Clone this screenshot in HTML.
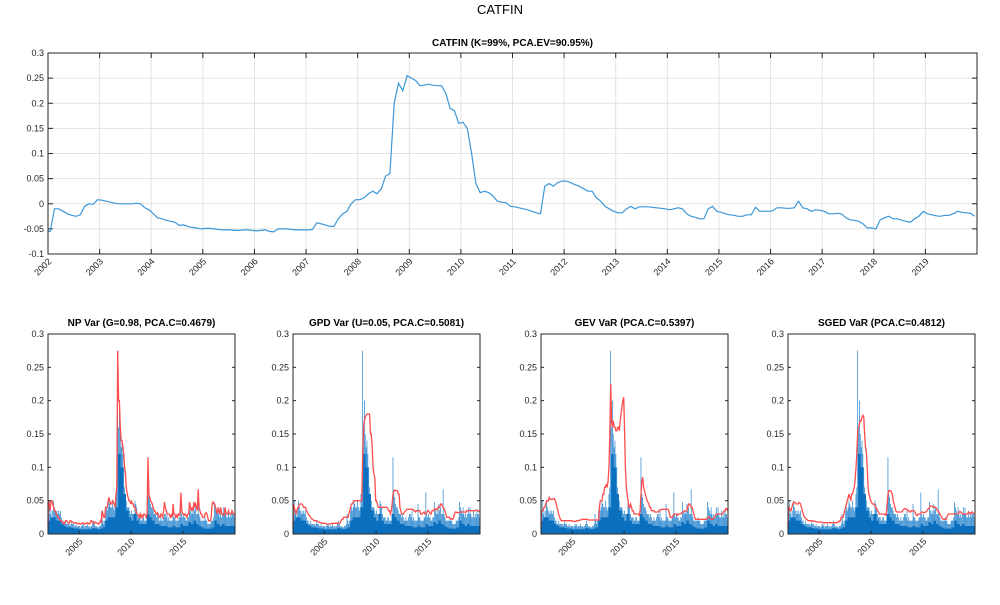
<!DOCTYPE html>
<html><head><meta charset="utf-8"><style>
body{margin:0;background:#fff;width:1000px;height:600px;overflow:hidden}
svg text{font-family:"Liberation Sans",sans-serif;fill:#262626}
</style></head><body>
<svg id="c" width="1000" height="600">
<text x="500" y="14" text-anchor="middle" font-size="13" style="fill:#000">CATFIN</text>
</svg>
<script>
const catfin=[-0.055,-0.01,-0.01,-0.015,-0.02,-0.023,-0.025,-0.022,-0.005,0,-0.001,0.008,
0.007,0.005,0.003,0.001,0,0,0,0,0.001,0,-0.008,-0.012,
-0.02,-0.028,-0.03,-0.033,-0.035,-0.037,-0.043,-0.042,-0.045,-0.047,-0.048,-0.05,
-0.049,-0.049,-0.05,-0.051,-0.052,-0.052,-0.052,-0.053,-0.053,-0.052,-0.052,-0.053,
-0.054,-0.053,-0.052,-0.055,-0.056,-0.05,-0.05,-0.05,-0.051,-0.052,-0.052,-0.052,
-0.052,-0.051,-0.038,-0.04,-0.042,-0.045,-0.045,-0.03,-0.02,-0.015,0,0.008,
0.008,0.012,0.02,0.025,0.02,0.03,0.055,0.06,0.2,0.24,0.225,0.255,
0.25,0.245,0.235,0.236,0.238,0.236,0.235,0.235,0.22,0.19,0.185,0.16,
0.162,0.15,0.1,0.04,0.022,0.025,0.022,0.015,0.005,0.003,0.002,-0.005,
-0.006,-0.008,-0.01,-0.012,-0.015,-0.018,-0.02,0.035,0.04,0.035,0.042,0.045,
0.045,0.042,0.038,0.035,0.03,0.025,0.025,0.012,0.005,-0.005,-0.01,-0.015,
-0.018,-0.018,-0.01,-0.005,-0.01,-0.006,-0.006,-0.006,-0.007,-0.008,-0.009,-0.01,
-0.012,-0.01,-0.008,-0.01,-0.02,-0.025,-0.027,-0.03,-0.03,-0.01,-0.005,-0.015,
-0.017,-0.02,-0.022,-0.023,-0.025,-0.025,-0.022,-0.022,-0.007,-0.015,-0.015,-0.015,
-0.014,-0.008,-0.008,-0.009,-0.009,-0.008,0.005,-0.008,-0.01,-0.015,-0.012,-0.013,
-0.015,-0.02,-0.02,-0.019,-0.02,-0.028,-0.032,-0.033,-0.035,-0.04,-0.048,-0.048,
-0.05,-0.032,-0.028,-0.025,-0.03,-0.03,-0.033,-0.035,-0.037,-0.03,-0.025,-0.015,
-0.02,-0.022,-0.024,-0.025,-0.023,-0.023,-0.02,-0.015,-0.017,-0.018,-0.019,-0.025];
const mainYTicks=[-0.1,-0.05,0,0.05,0.1,0.15,0.2,0.25,0.3];
const mainYLabels=["-0.1","-0.05","0","0.05","0.1","0.15","0.2","0.25","0.3"];
const mainXTicks=[2002,2003,2004,2005,2006,2007,2008,2009,2010,2011,2012,2013,2014,2015,2016,2017,2018,2019];
const smallYTicks=[0,0.05,0.1,0.15,0.2,0.25,0.3];
const smallYLabels=["0","0.05","0.1","0.15","0.2","0.25","0.3"];
const smallXTicks=[2005,2010,2015];
const returnsPeak=[.03,.05,.03,.035,.025,.035,.05,.04,.035,.03,.035,.03,
.035,.03,.035,.025,.02,.02,.015,.015,.02,.015,.015,.015,
.015,.012,.015,.02,.015,.015,.012,.012,.015,.01,.012,.012,
.012,.01,.012,.015,.012,.015,.01,.012,.012,.015,.012,.01,
.012,.01,.012,.015,.02,.015,.012,.01,.012,.01,.01,.012,
.012,.015,.03,.02,.015,.02,.035,.04,.035,.04,.05,.045,
.04,.04,.05,.04,.035,.04,.06,.07,.275,.16,.2,.15,
.13,.14,.12,.1,.07,.06,.05,.04,.04,.04,.035,.03,
.035,.03,.03,.03,.05,.045,.04,.03,.025,.025,.025,.02,
.02,.025,.025,.02,.02,.02,.03,.115,.06,.055,.045,.04,
.04,.035,.03,.03,.03,.025,.03,.025,.02,.02,.025,.02,
.02,.025,.03,.03,.025,.035,.02,.025,.02,.02,.02,.02,
.045,.025,.025,.02,.02,.02,.02,.025,.025,.062,.03,.025,
.03,.025,.025,.02,.02,.025,.025,.048,.035,.03,.035,.03,
.045,.035,.04,.03,.03,.067,.03,.025,.02,.02,.02,.02,
.02,.025,.02,.02,.015,.015,.015,.015,.02,.02,.02,.025,
.048,.04,.035,.03,.04,.03,.025,.03,.025,.03,.04,.03,
.04,.03,.025,.025,.035,.025,.03,.025,.035,.03,.03,.025];
const returnsTypical=[.02,.025,.025,.02,.02,.015,.012,.01,.01,.009,.008,.008,.007,.007,.007,.007,.007,.009,.008,.007,.008,.01,.02,.025,.025,.025,.04,.12,.1,.06,.035,.025,.02,.03,.02,.015,.015,.015,.03,.025,.02,.015,.015,.012,.012,.012,.01,.01,.012,.01,.01,.015,.012,.012,.018,.015,.02,.015,.012,.01,.008,.008,.008,.01,.02,.015,.012,.015,.012,.012,.012,.012];
const varNP=[.05,.045,.035,.05,.05,.045,.04,.035,.035,.03,.028,.025,
.025,.022,.02,.02,.018,.017,.015,.018,.02,.02,.018,.017,
.016,.02,.02,.018,.018,.017,.016,.017,.017,.016,.016,.015,
.016,.015,.015,.016,.017,.016,.015,.016,.016,.017,.016,.015,
.016,.02,.02,.017,.016,.016,.018,.017,.016,.016,.015,.016,
.02,.018,.035,.03,.025,.025,.04,.04,.04,.05,.055,.048,
.045,.045,.05,.048,.045,.04,.06,.07,.275,.2,.2,.16,
.14,.14,.13,.12,.1,.09,.07,.06,.055,.05,.05,.045,
.05,.045,.045,.04,.04,.035,.03,.03,.028,.025,.03,.025,
.028,.025,.03,.03,.028,.025,.03,.115,.06,.055,.05,.048,
.045,.04,.035,.035,.03,.03,.032,.03,.025,.025,.03,.028,
.025,.035,.048,.04,.035,.03,.03,.03,.028,.025,.03,.025,
.045,.03,.03,.025,.028,.025,.03,.028,.03,.062,.035,.03,
.03,.028,.03,.028,.025,.03,.03,.048,.04,.035,.04,.035,
.048,.04,.045,.04,.035,.067,.04,.035,.03,.03,.025,.025,
.025,.03,.032,.03,.025,.02,.02,.02,.025,.045,.048,.045,
.045,.04,.035,.03,.04,.035,.03,.04,.03,.03,.03,.028,
.04,.032,.03,.03,.035,.03,.03,.03,.035,.032,.03,.028];
const varGPD=[.045,.04,.035,.03,.035,.04,.04,.045,.045,.045,.045,.042,
.04,.04,.04,.035,.033,.03,.028,.027,.025,.023,.022,.021,
.02,.02,.02,.02,.019,.018,.018,.017,.017,.016,.016,.016,
.016,.016,.015,.015,.015,.015,.015,.015,.016,.016,.016,.016,
.016,.016,.016,.016,.016,.016,.017,.02,.022,.022,.025,.025,
.025,.025,.025,.025,.03,.035,.04,.045,.045,.048,.05,.05,
.05,.05,.05,.05,.05,.05,.05,.05,.12,.16,.17,.175,
.178,.18,.18,.18,.18,.15,.15,.13,.1,.09,.085,.05,
.05,.045,.04,.04,.04,.04,.04,.04,.04,.04,.04,.04,
.04,.038,.035,.035,.03,.035,.045,.06,.065,.066,.065,.065,
.065,.06,.06,.04,.035,.03,.03,.03,.032,.034,.035,.037,
.037,.037,.037,.037,.037,.037,.037,.035,.035,.033,.035,.035,
.035,.035,.035,.03,.03,.03,.032,.033,.03,.03,.032,.035,
.035,.033,.03,.03,.035,.035,.035,.038,.038,.036,.036,.04,
.04,.04,.045,.045,.042,.04,.038,.035,.03,.025,.025,.025,
.025,.023,.023,.022,.022,.025,.03,.033,.033,.032,.032,.032,
.033,.033,.033,.033,.033,.033,.033,.032,.035,.035,.035,.035,
.035,.035,.035,.035,.035,.035,.035,.036,.036,.035,.034,.033];
const varGEV=[.035,.035,.035,.04,.04,.045,.05,.05,.05,.055,.052,.052,
.052,.052,.053,.053,.05,.045,.04,.035,.03,.025,.022,.02,
.02,.02,.02,.02,.02,.02,.02,.02,.02,.02,.02,.02,
.019,.019,.019,.019,.019,.02,.02,.02,.021,.021,.021,.022,
.022,.022,.022,.022,.022,.022,.021,.021,.021,.021,.021,.021,
.021,.021,.021,.021,.021,.021,.021,.04,.05,.05,.05,.06,
.06,.07,.07,.075,.07,.08,.1,.15,.225,.17,.16,.17,
.16,.16,.155,.155,.16,.16,.155,.17,.18,.19,.2,.205,
.16,.1,.07,.06,.05,.04,.04,.045,.04,.035,.035,.03,
.03,.03,.03,.03,.03,.028,.035,.06,.08,.085,.07,.065,
.06,.055,.05,.048,.045,.04,.04,.035,.035,.035,.035,.033,
.033,.033,.033,.033,.036,.036,.036,.037,.037,.037,.037,.037,
.037,.037,.037,.035,.03,.025,.025,.025,.027,.03,.03,.03,
.03,.028,.03,.03,.03,.03,.032,.033,.033,.034,.035,.035,
.035,.04,.045,.045,.043,.04,.04,.035,.03,.025,.022,.022,
.022,.022,.022,.022,.022,.022,.022,.022,.022,.022,.022,.022,
.025,.025,.025,.023,.023,.022,.022,.023,.025,.028,.03,.03,
.03,.03,.03,.03,.03,.03,.032,.035,.035,.038,.038,.035];
const varSGED=[.04,.04,.035,.035,.04,.045,.048,.048,.046,.045,.045,.045,
.047,.047,.045,.04,.035,.03,.027,.025,.023,.022,.021,.02,
.02,.02,.02,.02,.02,.019,.019,.019,.018,.018,.018,.018,
.018,.018,.018,.017,.017,.017,.017,.017,.017,.017,.017,.017,
.017,.017,.017,.017,.017,.017,.017,.017,.017,.018,.018,.02,
.02,.025,.025,.025,.03,.035,.04,.045,.05,.055,.06,.055,
.05,.06,.06,.065,.07,.08,.1,.12,.155,.16,.165,.17,
.17,.175,.178,.175,.15,.13,.125,.1,.07,.06,.055,.05,
.048,.045,.045,.045,.042,.04,.038,.035,.033,.03,.03,.03,
.03,.03,.03,.03,.028,.03,.045,.06,.065,.065,.065,.062,
.06,.05,.045,.04,.035,.033,.033,.033,.033,.033,.033,.033,
.035,.037,.038,.038,.037,.037,.035,.035,.033,.033,.035,.035,
.035,.035,.033,.03,.028,.028,.03,.03,.03,.032,.033,.033,
.032,.032,.033,.033,.035,.037,.038,.04,.042,.042,.042,.04,
.04,.04,.04,.038,.035,.035,.032,.03,.028,.025,.023,.022,
.022,.022,.022,.025,.028,.03,.03,.03,.03,.03,.03,.03,
.03,.03,.03,.03,.03,.032,.034,.033,.032,.03,.03,.03,
.03,.03,.03,.03,.033,.032,.03,.032,.033,.032,.031,.03];
const panelTitles=["NP Var (G=0.98, PCA.C=0.4679)","GPD Var (U=0.05, PCA.C=0.5081)","GEV VaR (PCA.C=0.5397)","SGED VaR (PCA.C=0.4812)"];

const NS="http://www.w3.org/2000/svg";
const svg=document.getElementById('c');
function mk(tag,attrs,parent){const e=document.createElementNS(NS,tag);for(const k in attrs)e.setAttribute(k,attrs[k]);(parent||svg).appendChild(e);return e;}
function scale(d0,d1,r0,r1){return v=>r0+(v-d0)/(d1-d0)*(r1-r0);}

(function(){
  const L=48,R=977,T=53,B=254;
  const x=scale(2002,2020,L,R), y=scale(-0.1,0.3,B,T);
  const g=mk('g',{});
  
  
  mainYTicks.forEach((v,i)=>{
    const ln=mk('line',{x1:L,x2:R,y1:y(v),y2:y(v),stroke:'#e3e3e3','stroke-width':1},g);
    
    mk('line',{x1:L,x2:L+5,y1:y(v),y2:y(v),stroke:'#262626'},g);
    mk('line',{x1:R-5,x2:R,y1:y(v),y2:y(v),stroke:'#262626'},g);
    const t=mk('text',{x:L-4,y:y(v)+3,'text-anchor':'end','font-size':9},g);t.textContent=mainYLabels[i];
    
  });
  mainXTicks.forEach(v=>{
    const ln=mk('line',{x1:x(v),x2:x(v),y1:T,y2:B,stroke:'#e3e3e3'},g);
    
    mk('line',{x1:x(v),x2:x(v),y1:B,y2:B-5,stroke:'#262626'},g);
    mk('line',{x1:x(v),x2:x(v),y1:T,y2:T+5,stroke:'#262626'},g);
    const t=mk('text',{x:0,y:0,'text-anchor':'end','font-size':9,transform:`translate(${x(v)+4},${B+8}) rotate(-45)`},g);t.textContent=v;
    
  });
  const pts=catfin.map((v,i)=>x(2002+i/12+1/24).toFixed(1)+','+y(v).toFixed(1));
  pts.unshift(x(2002).toFixed(1)+','+y(catfin[0]).toFixed(1));
  const p=mk('polyline',{points:pts.join(' '),fill:'none',stroke:'#3d97d8','stroke-width':1.2},g);
  
  const box=mk('rect',{x:L,y:T,width:R-L,height:B-T,fill:'none',stroke:'#262626','stroke-width':1},g);
  
  const tt=mk('text',{x:(L+R)/2,y:46,'text-anchor':'middle','font-size':10,'font-weight':'bold',style:'fill:#000'},g);
  tt.textContent='CATFIN (K=99%, PCA.EV=90.95%)';
  
})();

const panelLefts=[48,293,541,788];
const panelSeries=[varNP,varGPD,varGEV,varSGED];
panelLefts.forEach((L,pi)=>{
  const R=L+187,T=334,B=534;
  const x=scale(2002,2020,L,R), y=scale(0,0.3,B,T);
  const g=mk('g',{});
  
  
  const mw=(R-L)/216;
  returnsPeak.forEach((v,i)=>{
    const b=mk('rect',{x:x(2002+i/12),y:y(v),width:mw*0.9,height:B-y(v),fill:'#3a8fd2'},g);
    
  });
  const qpts=[x(2002)+','+B];
  returnsTypical.forEach((v,i)=>{qpts.push(x(2002+i/4)+','+y(v));qpts.push(x(2002+(i+1)/4)+','+y(v));});
  qpts.push(x(2020)+','+B);
  const a=mk('polygon',{points:qpts.join(' '),fill:'#0a6fbf'},g);
  
  const ser=panelSeries[pi];
  const pts=ser.map((v,i)=>x(2002+i/12+1/24).toFixed(1)+','+y(v).toFixed(1));
  pts.unshift(x(2002).toFixed(1)+','+y(0.01).toFixed(1));
  const p=mk('polyline',{points:pts.join(' '),fill:'none',stroke:'#ff4d4d','stroke-width':1.3},g);
  
  smallYTicks.forEach((v,i)=>{
    mk('line',{x1:L,x2:L+3,y1:y(v),y2:y(v),stroke:'#262626'},g);
    mk('line',{x1:R-3,x2:R,y1:y(v),y2:y(v),stroke:'#262626'},g);
    const t=mk('text',{x:L-4,y:y(v)+3,'text-anchor':'end','font-size':9},g);t.textContent=smallYLabels[i];
    
  });
  smallXTicks.forEach(v=>{
    mk('line',{x1:x(v),x2:x(v),y1:B,y2:B-3,stroke:'#262626'},g);
    const t=mk('text',{x:0,y:0,'text-anchor':'end','font-size':9,transform:`translate(${x(v)+4},${B+8}) rotate(-45)`},g);t.textContent=v;
    
  });
  const box=mk('rect',{x:L,y:T,width:R-L,height:B-T,fill:'none',stroke:'#262626','stroke-width':1},g);
  
  const tt=mk('text',{x:(L+R)/2,y:326,'text-anchor':'middle','font-size':10,'font-weight':'bold',style:'fill:#000'},g);
  tt.textContent=panelTitles[pi];
  
});
</script>
</body></html>
